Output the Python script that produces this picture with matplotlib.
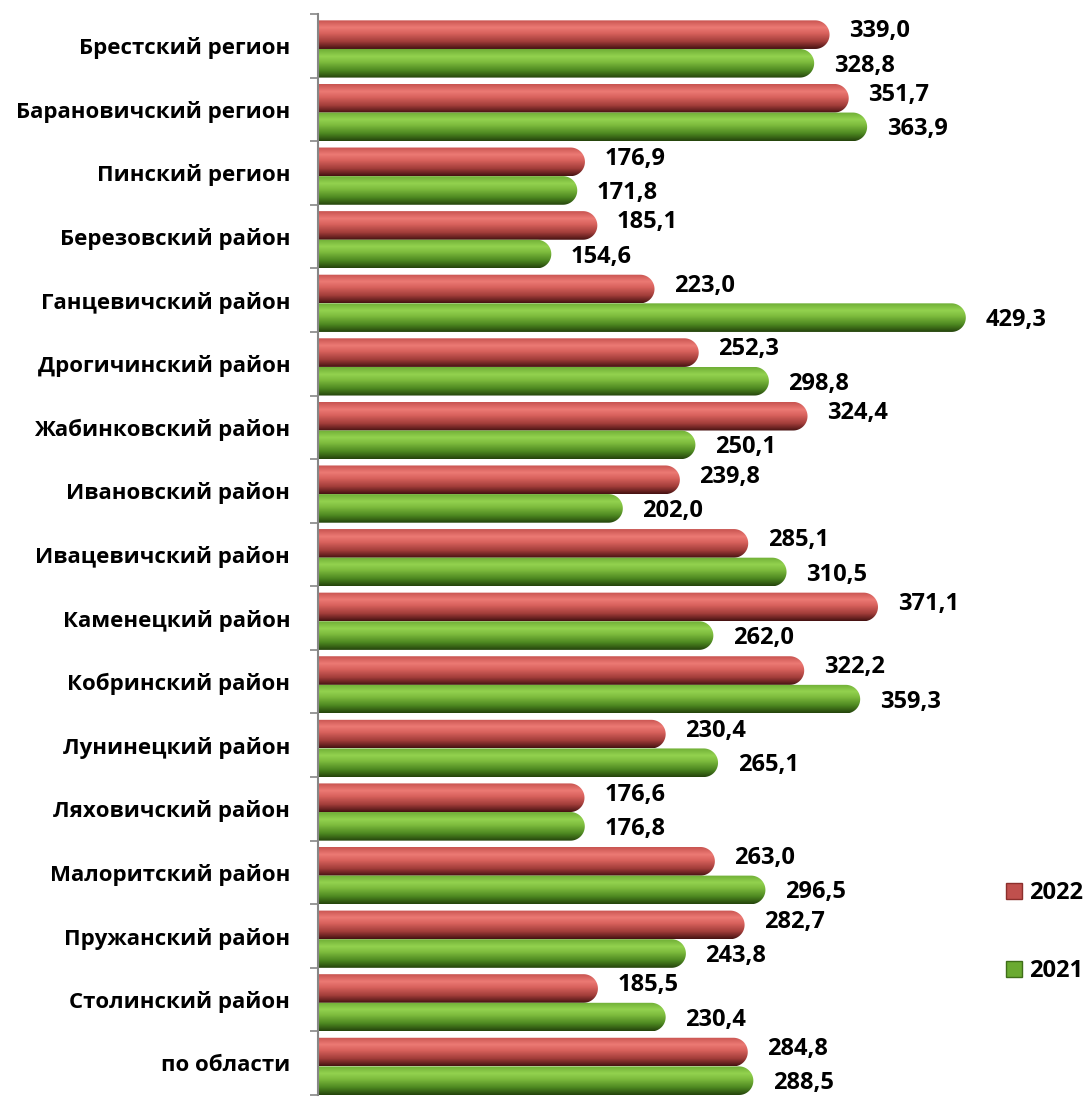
import numpy as np
import matplotlib.pyplot as plt
from matplotlib.patches import PathPatch
from matplotlib.path import Path
from matplotlib.lines import Line2D
from matplotlib.colors import LinearSegmentedColormap

plt.rcParams['font.family'] = ['Open Sans', 'DejaVu Sans']

categories = [
    "Брестский регион", "Барановичский регион", "Пинский регион",
    "Березовский район", "Ганцевичский район", "Дрогичинский район",
    "Жабинковский район", "Ивановский район", "Ивацевичский район",
    "Каменецкий район", "Кобринский район", "Лунинецкий район",
    "Ляховичский район", "Малоритский район", "Пружанский район",
    "Столинский район", "по области",
]
values_2022 = [339.0, 351.7, 176.9, 185.1, 223.0, 252.3, 324.4, 239.8, 285.1,
               371.1, 322.2, 230.4, 176.6, 263.0, 282.7, 185.5, 284.8]
values_2021 = [328.8, 363.9, 171.8, 154.6, 429.3, 298.8, 250.1, 202.0, 310.5,
               262.0, 359.3, 265.1, 176.8, 296.5, 243.8, 230.4, 288.5]

# vertical shading of the "cylinders": top -> bottom
red_shade = LinearSegmentedColormap.from_list(
    "red_cyl", [(0.0, "#c85450"), (0.25, "#ec7a74"), (0.45, "#d9625d"),
                (0.75, "#a03c39"), (1.0, "#461212")])
green_shade = LinearSegmentedColormap.from_list(
    "green_cyl", [(0.0, "#6fae36"), (0.25, "#93d24f"), (0.45, "#7dbb3d"),
                  (0.75, "#4c8620"), (1.0, "#25440c")])

X_MAX = 445
BAR_H = 0.45


def fmt(v):
    return f"{v:.1f}".replace(".", ",")


def cylinder(ax, value, y_top, height, cmap, rx):
    """Horizontal bar with a vertical gradient and a rounded right end."""
    y_bot = y_top + height
    yc = y_top + height / 2
    x_flat = max(value - rx, 0)
    t = np.linspace(-np.pi / 2, np.pi / 2, 40)
    cap_x = x_flat + rx * np.cos(t)
    cap_y = yc + (height / 2) * np.sin(t)
    verts = [(0, y_top), (x_flat, y_top)] + list(zip(cap_x, cap_y)) + \
            [(x_flat, y_bot), (0, y_bot), (0, y_top)]
    codes = [Path.MOVETO] + [Path.LINETO] * (len(verts) - 2) + [Path.CLOSEPOLY]
    patch = PathPatch(Path(verts, codes), facecolor="none", edgecolor="none")
    ax.add_patch(patch)
    grad = np.linspace(0, 1, 64).reshape(-1, 1)
    img = ax.imshow(grad, cmap=cmap, aspect="auto", origin="upper",
                    extent=(0, value, y_bot, y_top), interpolation="bilinear")
    img.set_clip_path(patch)


fig = plt.figure(figsize=(10.91, 11.06), dpi=100)
ax = fig.add_axes([318 / 1091, 11 / 1106, (X_MAX * 1.509) / 1091, 1081 / 1106])

n = len(categories)
ax.set_xlim(0, X_MAX)
ax.set_ylim(n - 0.5, -0.5)

# horizontal radius of the end cap in data units (round in pixels)
px_per_x = ax.get_position().width * 1091 / X_MAX
px_per_y = ax.get_position().height * 1106 / n
rx = (BAR_H / 2) * px_per_y / px_per_x

ypos = np.arange(n)
for i in range(n):
    top_red = ypos[i] - 0.4
    top_green = top_red + BAR_H
    cylinder(ax, values_2022[i], top_red, BAR_H, red_shade, rx)
    cylinder(ax, values_2021[i], top_green, BAR_H, green_shade, rx)
    ax.text(values_2022[i] + 13, top_red + BAR_H / 2 - 0.05, fmt(values_2022[i]),
            ha="left", va="center", fontsize=17, fontweight="bold", clip_on=False)
    ax.text(values_2021[i] + 13, top_green + BAR_H / 2 + 0.04, fmt(values_2021[i]),
            ha="left", va="center", fontsize=17, fontweight="bold", clip_on=False)

ax.set_xlim(0, X_MAX)
ax.set_ylim(n - 0.5, -0.5)

ax.set_yticks(ypos)
ax.set_yticklabels(categories, fontsize=16, fontweight="bold")
ax.set_yticks(np.arange(n + 1) - 0.5, minor=True)
ax.tick_params(axis="y", which="major", length=0, pad=20)
ax.tick_params(axis="y", which="minor", length=6, color="#868686", width=1.2)
ax.set_xticks([])
for s in ["top", "right", "bottom"]:
    ax.spines[s].set_visible(False)
ax.spines["left"].set_color("#868686")
ax.spines["left"].set_linewidth(1.5)

handles = [
    Line2D([], [], marker="s", linestyle="none", markersize=12,
           markerfacecolor="#c0504d", markeredgecolor="#8c2f2c"),
    Line2D([], [], marker="s", linestyle="none", markersize=12,
           markerfacecolor="#6aaa30", markeredgecolor="#3f6e18"),
]
fig.legend(handles, ["2022", "2021"], loc="center left",
           bbox_to_anchor=(995 / 1091, 1 - 932 / 1106), frameon=False,
           prop={"size": 17, "weight": "bold"}, handlelength=0.8,
           handletextpad=0.25, labelspacing=2.3, borderaxespad=0)

fig.savefig("out.png", dpi=100)
